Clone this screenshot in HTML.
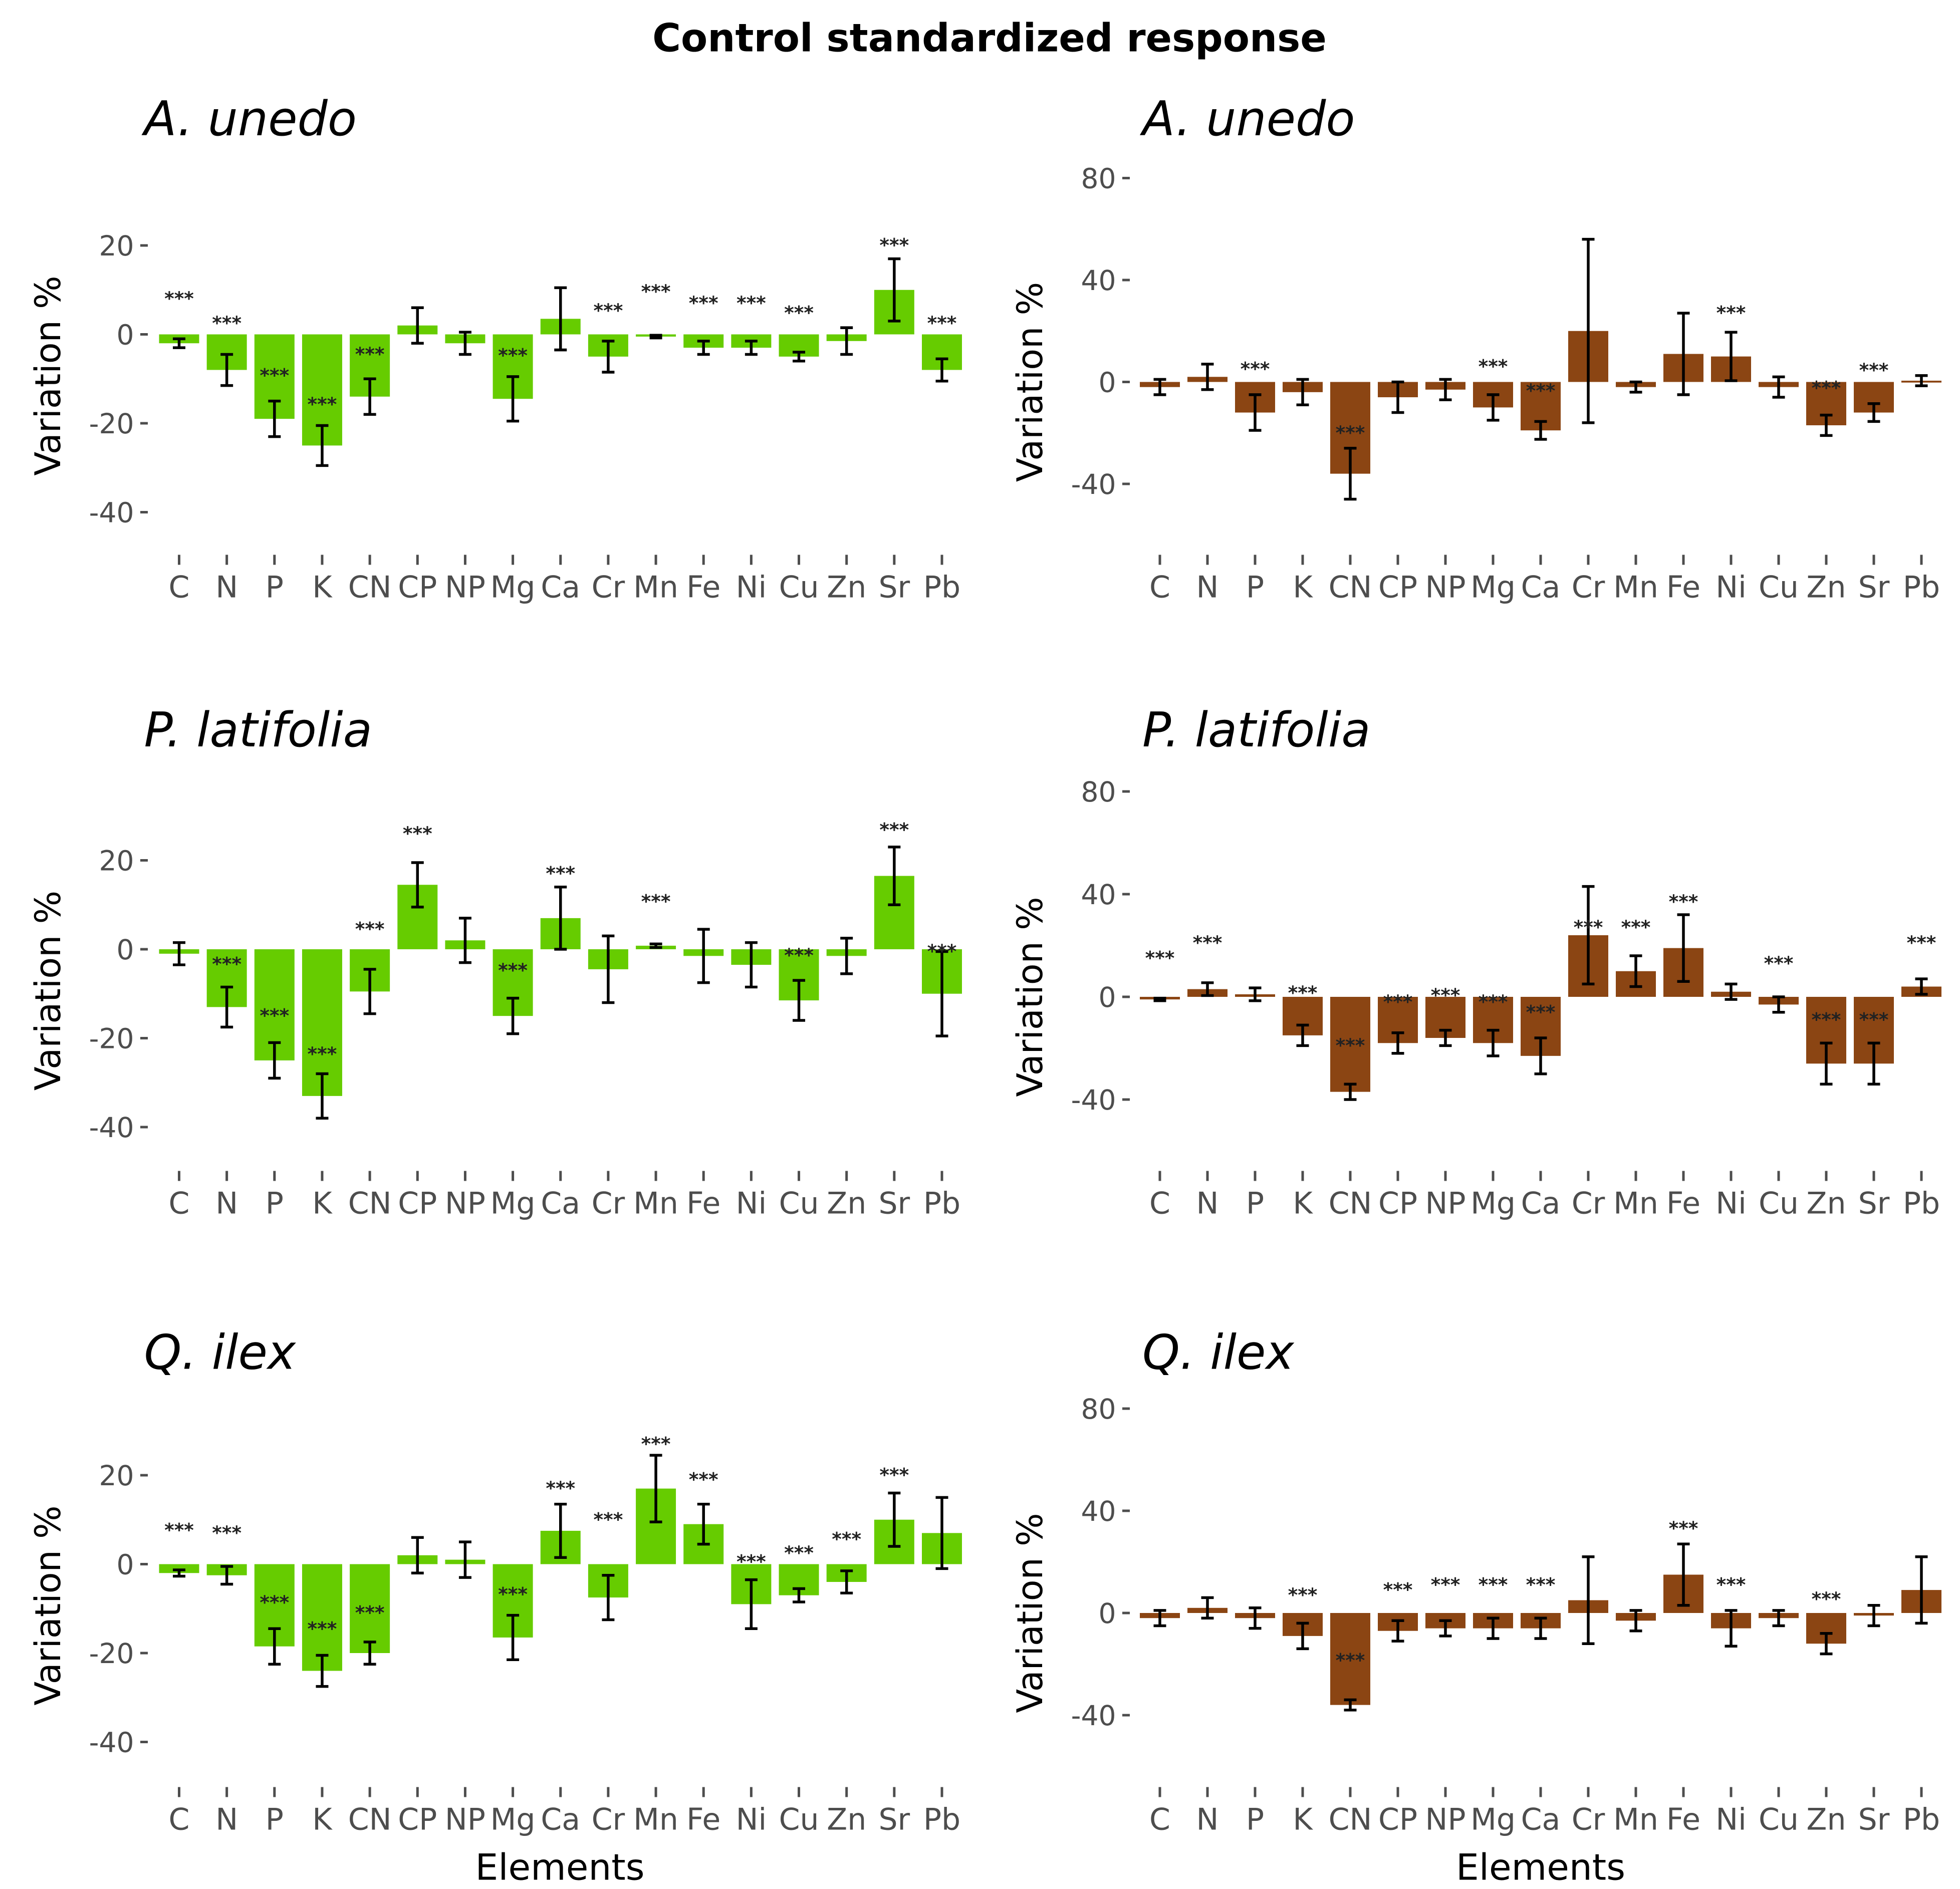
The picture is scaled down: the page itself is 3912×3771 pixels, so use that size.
<!DOCTYPE html>
<html><head><meta charset="utf-8"><style>
html,body{margin:0;padding:0;background:#fff;}
svg{display:block;font-family:"DejaVu Sans","Liberation Sans",sans-serif;}
</style></head><body>
<svg id="chart" width="3912" height="3771" viewBox="0 0 1564.8 1508.4" xmlns="http://www.w3.org/2000/svg">
<rect width="1564.8" height="1508.4" fill="#fff"/>
<text x="790" y="41" text-anchor="middle" font-size="31" font-weight="bold" fill="#000">Control standardized response</text>
<g id="panels"></g>
<text x="447" y="1501" text-anchor="middle" font-size="29" fill="#000">Elements</text>
<text x="1230" y="1501" text-anchor="middle" font-size="29" fill="#000">Elements</text>
</svg>
<script>
const categories = ["C","N","P","K","CN","CP","NP","Mg","Ca","Cr","Mn","Fe","Ni","Cu","Zn","Sr","Pb"];
// A. unedo green
const unedoGreenVal = [-2,-8,-19,-25,-14,2,-2,-14.5,3.5,-5,-0.5,-3,-3,-5,-1.5,10,-8];
const unedoGreenErr = [1,3.5,4,4.5,4,4,2.5,5,7,3.5,0.3,1.5,1.5,1,3,7,2.5];
const unedoGreenStar = [8,2.5,-9.3,-15.8,-4.5,null,null,-4.8,null,5.3,9.6,7,7,4.8,null,20,2.5];
// A. unedo brown
const unedoBrownVal = [-2,2,-12,-4,-36,-6,-3,-10,-19,20,-2,11,10,-2,-17,-12,0.5];
const unedoBrownErr = [3,5,7,5,10,6,4,5,3.5,36,2,16,9.5,4,4,3.5,2];
const unedoBrownStar = [null,null,5,null,-20,null,null,6,-3.5,null,null,null,27,null,-2.5,4.5,null];
// P. latifolia green
const latGreenVal = [-1,-13,-25,-33,-9.5,14.5,2,-15,7,-4.5,0.8,-1.5,-3.5,-11.5,-1.5,16.5,-10];
const latGreenErr = [2.5,4.5,4,5,5,5,5,4,7,7.5,0.4,6,5,4.5,4,6.5,9.5];
const latGreenStar = [null,-3.4,-15,-23.6,4.5,26,null,-4.8,17,null,10.7,null,null,-1.4,null,26.8,-0.5];
// P. latifolia brown
const latBrownVal = [-1,3,1,-15,-37,-18,-16,-18,-23,24,10,19,2,-3,-26,-26,4];
const latBrownErr = [0.5,2.5,2.5,4,3,4,3,5,7,19,6,13,3,3,8,8,3];
const latBrownStar = [15,21,null,1.5,-19,-2,0.5,-2,-6,27,27,37,null,13,-9,-9,21];
// Q. ilex green
const ilexGreenVal = [-2,-2.5,-18.5,-24,-20,2,1,-16.5,7.5,-7.5,17,9,-9,-7,-4,10,7];
const ilexGreenErr = [0.7,2,4,3.5,2.5,4,4,5,6,5,7.5,4.5,5.5,1.5,2.5,6,8];
const ilexGreenStar = [7.6,7,-8.7,-14.6,-11,null,null,-6.8,17,10,27,19,0.5,2.5,5.6,20,null];
// Q. ilex brown
const ilexBrownVal = [-2,2,-2,-9,-36,-7,-6,-6,-6,5,-3,15,-6,-2,-12,-1,9];
const ilexBrownErr = [3,4,4,5,2,4,3,4,4,17,4,12,7,3,4,4,13];
const ilexBrownStar = [null,null,null,7,-18.6,9,11,11,11,null,null,33,11,null,5.4,null,null];

const greenTicks = [20,0,-20,-40];
const brownTicks = [80,40,0,-40];

const NS="http://www.w3.org/2000/svg";
const root=document.getElementById('panels');
function mk(tag,attrs,parent,txt){const e=document.createElementNS(NS,tag);for(const k in attrs)e.setAttribute(k,attrs[k]);if(txt!==undefined)e.textContent=txt;parent.appendChild(e);return e;}

const panels=[
 {name:"a-unedo-green",title:"A. unedo",vals:unedoGreenVal,errs:unedoGreenErr,stars:unedoGreenStar,ticks:greenTicks,color:"#66cc00",x0:143,x1:752,zeroY:267,ppu:3.55,titleY:108,labY:477,tickTop:443,axisX:118,titleX:115,ytitleX:48},
 {name:"a-unedo-brown",title:"A. unedo",vals:unedoBrownVal,errs:unedoBrownErr,stars:unedoBrownStar,ticks:brownTicks,color:"#8b4513",x0:926,x1:1534,zeroY:305,ppu:2.035,titleY:108,labY:477,tickTop:443,axisX:902,titleX:912,ytitleX:832},
 {name:"p-latifolia-green",title:"P. latifolia",vals:latGreenVal,errs:latGreenErr,stars:latGreenStar,ticks:greenTicks,color:"#66cc00",x0:143,x1:752,zeroY:758,ppu:3.55,titleY:596,labY:969,tickTop:935,axisX:118,titleX:115,ytitleX:48},
 {name:"p-latifolia-brown",title:"P. latifolia",vals:latBrownVal,errs:latBrownErr,stars:latBrownStar,ticks:brownTicks,color:"#8b4513",x0:926,x1:1534,zeroY:796,ppu:2.05,titleY:596,labY:969,tickTop:935,axisX:902,titleX:912,ytitleX:832},
 {name:"q-ilex-green",title:"Q. ilex",vals:ilexGreenVal,errs:ilexGreenErr,stars:ilexGreenStar,ticks:greenTicks,color:"#66cc00",x0:143,x1:752,zeroY:1249,ppu:3.55,titleY:1093,labY:1461,tickTop:1427,axisX:118,titleX:115,ytitleX:48},
 {name:"q-ilex-brown",title:"Q. ilex",vals:ilexBrownVal,errs:ilexBrownErr,stars:ilexBrownStar,ticks:brownTicks,color:"#8b4513",x0:926,x1:1534,zeroY:1288,ppu:2.04,titleY:1093,labY:1461,tickTop:1427,axisX:902,titleX:912,ytitleX:832}
];

panels.forEach(p=>{
 const g=mk('g',{},root);
 
 
 const xs=i=>p.x0+i*(p.x1-p.x0)/(categories.length-1);
 const ys=v=>p.zeroY-v*p.ppu;
 const t=mk('text',{x:p.titleX,y:p.titleY,'font-size':38,'font-style':'italic',fill:'#000'},g,p.title);
 
 
 const yt=mk('text',{x:p.ytitleX,y:p.zeroY+ (p.ppu>3?33:0),'font-size':28,fill:'#000','text-anchor':'middle',transform:`rotate(-90 ${p.ytitleX} ${p.zeroY+(p.ppu>3?33:0)})`},g,'Variation %');
 
 
 p.ticks.forEach(v=>{
  const y=ys(v);
  const l=mk('text',{x:p.axisX-11,y:y+8,'font-size':22,fill:'#4d4d4d','text-anchor':'end'},g,String(v));
  
  
  const tk=mk('line',{x1:p.axisX-6,x2:p.axisX,y1:y,y2:y,stroke:'#4d4d4d','stroke-width':2},g);
  
  
 });
 categories.forEach((c,i)=>{
  const x=xs(i), v=p.vals[i], e=p.errs[i];
  const b=mk('rect',{x:x-16,y:Math.min(ys(v),ys(0)),width:32,height:Math.max(Math.abs(ys(v)-ys(0)),1.5),fill:p.color},g);
  
  
  const eb=mk('path',{d:`M${x} ${ys(v+e)}V${ys(v-e)}M${x-5} ${ys(v+e)}H${x+5}M${x-5} ${ys(v-e)}H${x+5}`,stroke:'#000','stroke-width':2.2,fill:'none'},g);
  
  
  if(p.stars[i]!==null){
   const s=mk('text',{x:x,y:ys(p.stars[i])+5,'font-size':15,'font-weight':'bold',fill:'#222','text-anchor':'middle'},g,'***');
   
   
  }
  const tk=mk('line',{x1:x,x2:x,y1:p.tickTop,y2:p.tickTop+8,stroke:'#4d4d4d','stroke-width':2},g);
  
  
  const lb=mk('text',{x:x,y:p.labY,'font-size':24,fill:'#4d4d4d','text-anchor':'middle'},g,c);
  
  
 });
});
</script>
</body></html>
